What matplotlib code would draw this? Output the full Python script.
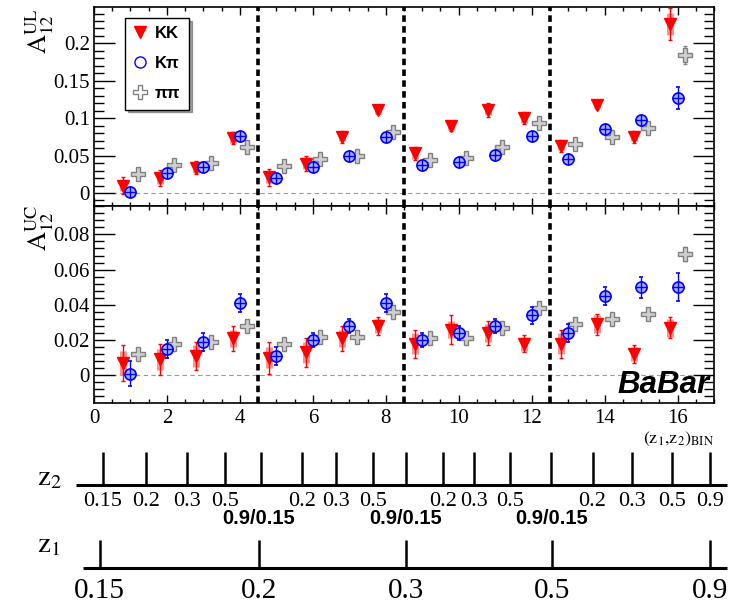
import numpy as np
import matplotlib
matplotlib.use("Agg")
import matplotlib.pyplot as plt
from matplotlib.lines import Line2D
from matplotlib.ticker import MultipleLocator

plt.rcParams['font.family'] = ['Liberation Serif', 'DejaVu Serif']
plt.rcParams['mathtext.fontset'] = 'stix'

# (z1,z2) bins
bins = np.arange(1, 17)

# A12^UL
ul_kk = [0.010, 0.020, 0.034, 0.074, 0.021, 0.039, 0.075, 0.111,
         0.053, 0.089, 0.111, 0.100, 0.063, 0.118, 0.075, 0.226]
ul_kk_err = [0.012, 0.011, 0.009, 0.008, 0.011, 0.010, 0.008, 0.006,
             0.009, 0.006, 0.009, 0.008, 0.008, 0.006, 0.008, 0.021]
ul_kk_sys = [0.008, 0.008, 0.007, 0.007, 0.008, 0.007, 0.006, 0.005,
             0.007, 0.005, 0.007, 0.006, 0.006, 0.005, 0.006, 0.015]
ul_kpi = [0.001, 0.027, 0.035, 0.076, 0.020, 0.035, 0.049, 0.075,
          0.037, 0.041, 0.051, 0.076, 0.046, 0.086, 0.097, 0.127]
ul_kpi_err = [0.005, 0.004, 0.004, 0.004, 0.004, 0.004, 0.004, 0.004,
              0.004, 0.004, 0.004, 0.005, 0.004, 0.005, 0.006, 0.015]
ul_pipi = [0.026, 0.037, 0.040, 0.062, 0.036, 0.046, 0.049, 0.082,
           0.044, 0.047, 0.062, 0.094, 0.065, 0.075, 0.087, 0.185]
ul_pipi_err = [0.003, 0.003, 0.003, 0.003, 0.003, 0.003, 0.003, 0.003,
               0.003, 0.003, 0.003, 0.003, 0.003, 0.003, 0.003, 0.012]

# A12^UC
uc_kk = [0.007, 0.009, 0.011, 0.021, 0.010, 0.013, 0.021, 0.028,
         0.018, 0.026, 0.024, 0.018, 0.018, 0.029, 0.012, 0.027]
uc_kk_err = [0.010, 0.009, 0.008, 0.007, 0.009, 0.008, 0.007, 0.005,
             0.008, 0.008, 0.007, 0.005, 0.008, 0.006, 0.005, 0.006]
uc_kk_sys = [0.007, 0.006, 0.006, 0.005, 0.006, 0.006, 0.005, 0.004,
             0.006, 0.005, 0.005, 0.004, 0.006, 0.005, 0.004, 0.005]
uc_kpi = [0.001, 0.015, 0.019, 0.041, 0.011, 0.020, 0.028, 0.041,
          0.020, 0.024, 0.028, 0.034, 0.024, 0.045, 0.050, 0.050]
uc_kpi_err = [0.007, 0.005, 0.005, 0.005, 0.005, 0.004, 0.004, 0.005,
              0.004, 0.004, 0.004, 0.005, 0.005, 0.005, 0.006, 0.008]
uc_pipi = [0.012, 0.018, 0.019, 0.028, 0.018, 0.022, 0.022, 0.036,
           0.021, 0.021, 0.027, 0.038, 0.029, 0.032, 0.035, 0.069]
uc_pipi_err = [0.002, 0.002, 0.002, 0.002, 0.002, 0.002, 0.002, 0.002,
               0.002, 0.002, 0.002, 0.002, 0.002, 0.002, 0.002, 0.004]

# z scales below the plot (positions in bin units)
z2_pos = [0.25, 1.42, 2.55, 3.59, 4.58, 5.70, 6.63, 7.64, 8.55,
          9.56, 10.41, 11.42, 12.52, 13.67, 14.74, 15.84, 16.88]
z2_labels = ["0.15", "0.2", "0.3", "0.5", "", "0.2", "0.3", "0.5", "",
             "0.2", "0.3", "0.5", "", "0.2", "0.3", "0.5", "0.9"]
z1_pos = [0.16, 4.52, 8.55, 12.55, 16.9]
z1_labels = ["0.15", "0.2", "0.3", "0.5", "0.9"]
sep_pos = [4.5, 8.5, 12.5]


def draw_panel(ax, kk, kk_err, kk_sys, kpi, kpi_err, pipi, pipi_err):
    ax.hlines(0, 0.5, 16.5, colors="#999999", linestyles=(0, (4, 3)), lw=0.8, zorder=1)
    for s in sep_pos:
        ax.axvline(s, color="black", lw=2.6, linestyle=(0, (1.8, 1.2)), zorder=2)
    # KK
    ax.errorbar(bins - 0.2, kk, yerr=kk_sys, fmt="none", ecolor="#ff9090",
                elinewidth=5, zorder=3)
    ax.errorbar(bins - 0.2, kk, yerr=kk_err, fmt="v", color="red", ms=9,
                mec="red", elinewidth=1, capsize=1.5, zorder=4)
    # Kpi
    ax.errorbar(bins, kpi, yerr=kpi_err, fmt="o", color="blue", ms=8,
                mfc="#a8b0ff", mec="blue", mew=1.2, elinewidth=1, capsize=1.5, zorder=5)
    ax.plot(bins, kpi, "+", color="blue", ms=8, mew=1, zorder=6)
    # pipi
    ax.errorbar(bins + 0.2, pipi, yerr=pipi_err, fmt="P", color="#888888", ms=10,
                mfc="#cfcfcf", mec="#808080", mew=1, elinewidth=1, capsize=1.5, zorder=4)

    ax.set_xlim(0, 17)
    ax.xaxis.set_major_locator(MultipleLocator(2))
    ax.xaxis.set_minor_locator(MultipleLocator(0.5))
    ax.tick_params(axis="x", which="major", direction="in", length=6, width=1,
                   top=True, labelsize=15, pad=4)
    ax.tick_params(axis="x", which="minor", direction="in", length=3, width=1, top=True)
    ax.tick_params(axis="y", which="major", direction="in", length=15, width=1,
                   right=True, labelsize=15, pad=3)
    ax.tick_params(axis="y", which="minor", direction="in", length=7, width=1, right=True)
    for sp in ax.spines.values():
        sp.set_linewidth(1.2)


fig = plt.figure(figsize=(7.31, 6.06), dpi=100)

ax1 = fig.add_axes([94 / 731, 1 - 206 / 606, 620 / 731, 199 / 606])
ax2 = fig.add_axes([94 / 731, 1 - 403 / 606, 620 / 731, 197 / 606])

draw_panel(ax1, ul_kk, ul_kk_err, ul_kk_sys, ul_kpi, ul_kpi_err, ul_pipi, ul_pipi_err)
draw_panel(ax2, uc_kk, uc_kk_err, uc_kk_sys, uc_kpi, uc_kpi_err, uc_pipi, uc_pipi_err)

ax1.set_ylim(-0.0174, 0.2487)
ax1.yaxis.set_major_locator(MultipleLocator(0.05))
ax1.yaxis.set_minor_locator(MultipleLocator(0.01))
ax1.set_yticks([0, 0.05, 0.1, 0.15, 0.2])
ax1.set_yticklabels(["0", "0.05", "0.1", "0.15", "0.2"])
ax1.tick_params(axis="x", labelbottom=False)

ax2.set_ylim(-0.0157, 0.0961)
ax2.yaxis.set_major_locator(MultipleLocator(0.02))
ax2.yaxis.set_minor_locator(MultipleLocator(0.004))
ax2.set_yticks([0, 0.02, 0.04, 0.06, 0.08])
ax2.set_yticklabels(["0", "0.02", "0.04", "0.06", "0.08"])
ax2.set_xticks(range(0, 17, 2))

fig.text(40 / 731, 1 - 8 / 606, r"$\mathrm{A}_{12}^{\mathrm{UL}}$", rotation=90,
         ha="center", va="top", fontsize=19)
fig.text(40 / 731, 1 - 205 / 606, r"$\mathrm{A}_{12}^{\mathrm{UC}}$", rotation=90,
         ha="center", va="top", fontsize=19)

# legend
handles = [
    Line2D([], [], ls="none", marker="v", color="red", ms=9),
    Line2D([], [], ls="none", marker="o", mfc="white", mec="blue", ms=8, mew=1),
    Line2D([], [], ls="none", marker="P", mfc="white", mec="#808080", ms=10, mew=1),
]
leg = ax1.legend(handles, ["KK", "Kπ", "ππ"], loc="upper left",
                 bbox_to_anchor=(0.05, 0.945), borderaxespad=0, fancybox=False,
                 shadow=True, frameon=True, handlelength=0.8, handletextpad=0.5,
                 labelspacing=0.9, borderpad=0.5,
                 prop={"family": "Liberation Sans", "weight": "bold", "size": 12})
leg.get_frame().set_edgecolor("black")
leg.get_frame().set_linewidth(1)

ax2.text(0.8435, 0.05, "BaBar", transform=ax2.transAxes, ha="left", va="baseline",
         fontsize=22.5, fontweight="bold", fontstyle="italic", family="Liberation Sans")
fig.text(714 / 731, 1 - 443 / 606, r"$(\mathrm{z}_1{,}\mathrm{z}_2)_{\mathrm{BIN}}$",
         ha="right", va="baseline", fontsize=13)

# z scales
ax3 = fig.add_axes([94 / 731, 0, 620 / 731, 166 / 606])
ax3.set_xlim(0, 17)
ax3.set_ylim(0, 166)
ax3.axis("off")
ax3.plot([-0.49, 17.35], [121, 121], color="black", lw=2.2, clip_on=False,
         solid_capstyle="butt")
ax3.vlines(z2_pos, 121, 154, color="black", lw=1.8, clip_on=False)
for p, lab in zip(z2_pos, z2_labels):
    if lab:
        ax3.text(p, 104, lab, ha="center", va="center", fontsize=16, clip_on=False)
for p in z1_pos[1:4]:
    ax3.text(p, 87, "0.9/0.15", ha="center", va="center", fontsize=14.5,
             fontweight="bold", family="Liberation Sans")
ax3.plot([-0.3, 17.35], [38, 38], color="black", lw=2.2, clip_on=False,
         solid_capstyle="butt")
ax3.vlines(z1_pos, 38, 66, color="black", lw=1.8, clip_on=False)
for p, lab in zip(z1_pos, z1_labels):
    ax3.text(p, 15, lab, ha="center", va="center", fontsize=21, clip_on=False)
ax3.text(-1.55, 121, r"$\mathrm{z}_2$", ha="left", va="baseline", fontsize=21, clip_on=False)
ax3.text(-1.55, 54, r"$\mathrm{z}_1$", ha="left", va="baseline", fontsize=21, clip_on=False)

fig.savefig("out.png", dpi=100)
